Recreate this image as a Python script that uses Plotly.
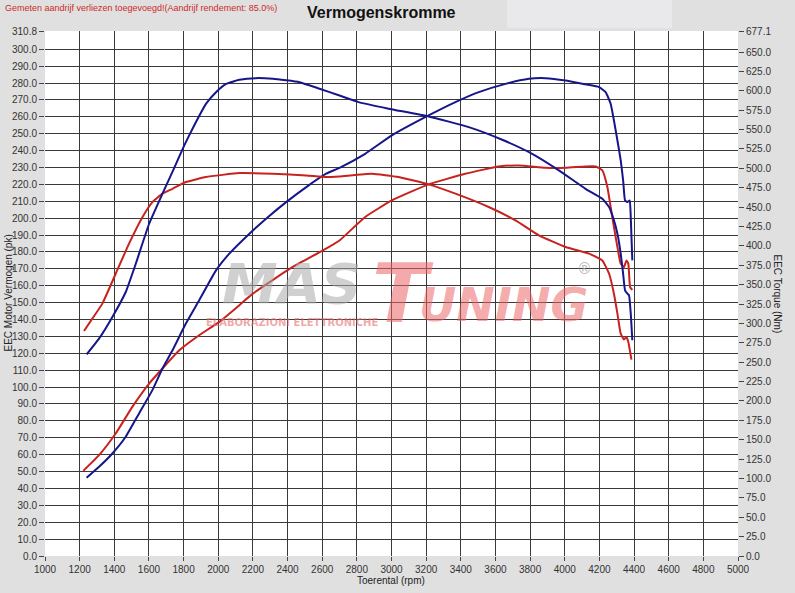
import plotly.graph_objects as go

# ---------------- data ----------------
blue_power_rpm = [1240, 1312, 1389, 1466, 1543, 1620, 1678, 1736, 1813, 1890, 1987, 2064, 2180, 2276,
                  2392, 2508, 2623, 2700, 2848, 3002, 3214, 3369, 3504, 3658, 3793, 3889, 4005, 4120,
                  4198, 4236, 4265, 4284, 4304, 4323, 4337, 4348, 4362, 4375, 4381, 4390]
blue_power_pk = [46.3, 52.8, 60.7, 70.6, 84.4, 98.2, 111.0, 121.8, 137.6, 151.4, 169.1, 179.0, 190.8, 199.7,
                 209.5, 218.4, 226.3, 229.8, 238.1, 249.0, 260.8, 268.7, 274.6, 279.5, 282.5, 282.9, 281.5, 279.2,
                 277.6, 274.6, 267.7, 257.8, 246.0, 234.2, 222.3, 210.5, 209.5, 210.5, 200.7, 175.0]

blue_torque_rpm = [1240, 1312, 1389, 1466, 1524, 1601, 1678, 1746, 1804, 1861, 1929, 1987, 2045, 2122,
                   2218, 2315, 2469, 2585, 2700, 2810, 2983, 3214, 3446, 3639, 3812, 3966, 4120, 4217,
                   4256, 4284, 4304, 4323, 4337, 4348, 4362, 4371, 4381, 4390]
blue_torque_nm = [260.1, 280.4, 308.3, 340.5, 376.9, 428.5, 467.3, 500.6, 529.6, 555.3, 583.2, 598.2, 608.9, 614.1,
                  616.3, 615.4, 611.1, 602.6, 593.9, 585.4, 576.9, 566.9, 553.1, 536.8, 518.7, 497.4, 473.6, 460.8,
                  450.1, 432.9, 415.7, 390.0, 364.0, 342.7, 338.3, 336.2, 312.6, 278.2]

red_power_rpm = [1221, 1312, 1408, 1504, 1601, 1678, 1775, 1890, 2006, 2122, 2199, 2430, 2604, 2700,
                 2848, 3002, 3214, 3426, 3619, 3735, 3889, 4005, 4120, 4178, 4217, 4246, 4265, 4284,
                 4304, 4323, 4342, 4356, 4367, 4377, 4390]
red_power_pk = [50.4, 59.7, 72.5, 88.3, 102.1, 111.0, 121.8, 130.7, 138.6, 148.5, 155.3, 171.1, 180.9, 186.8,
                200.7, 210.5, 220.0, 226.3, 230.6, 231.2, 229.8, 229.8, 230.6, 230.6, 228.3, 218.4, 206.6, 194.7,
                182.9, 173.0, 171.1, 175.0, 173.0, 159.2, 157.5]

red_torque_rpm = [1225, 1273, 1331, 1408, 1485, 1563, 1620, 1678, 1736, 1813, 1929, 2122, 2315, 2508,
                  2623, 2700, 2887, 3041, 3214, 3369, 3561, 3716, 3851, 4005, 4140, 4217, 4256, 4284,
                  4304, 4323, 4342, 4356, 4367, 4385]
red_torque_nm = [290.2, 306.1, 325.5, 364.0, 402.8, 437.2, 456.4, 467.3, 473.6, 482.3, 488.7, 493.9, 493.0, 490.8,
                 488.7, 489.5, 493.0, 488.7, 479.3, 467.3, 450.1, 432.9, 413.5, 398.5, 390.0, 381.2, 364.0, 338.3,
                 312.6, 286.7, 279.1, 282.6, 276.0, 253.2]

x_ticks = list(range(1000, 5001, 200))
left_ticks = [float(v) for v in range(0, 301, 10)] + [310.8]
right_ticks = [float(v) for v in range(0, 651, 25)] + [677.1]
left_max = 310.8
right_max = 677.1

# ---------------- figure ----------------
W, H = 795, 593
L, R, T, B = 45, 738, 31, 556

def px(xp):
    return (xp - L) / (R - L)

def py(yp):
    return (B - yp) / (B - T)

BLUE = "#16168a"
RED = "#c8221f"
FONT = "Liberation Sans, Arial, sans-serif"

fig = go.Figure()

# watermark (as annotations)
wm = [
    dict(text="<b><i>MAS</i></b>", x=px(291), y=py(283), size=56, color="rgba(170,170,170,0.55)"),
    dict(text="<b><i>T</i></b>", x=px(403), y=py(293), size=82, color="rgba(235,100,100,0.55)"),
    dict(text="<b><i>UNING</i></b>", x=px(503), y=py(305), size=46, color="rgba(235,100,100,0.55)"),
    dict(text="<b>ELABORAZIONI ELETTRONICHE</b>", x=px(292), y=py(322), size=10, color="rgba(230,110,110,0.6)"),
    dict(text="®", x=px(584), y=py(269), size=15, color="rgba(150,150,150,0.7)"),
]
for w in wm:
    fig.add_annotation(text=w["text"], x=w["x"], y=w["y"], xref="paper", yref="paper",
                       showarrow=False, xanchor="center", yanchor="middle",
                       font=dict(family="DejaVu Sans, sans-serif", size=w["size"], color=w["color"]))

line_shape = dict(width=2, shape="spline", smoothing=0.4)

fig.add_trace(go.Scatter(x=red_power_rpm, y=red_power_pk, mode="lines",
                         line=dict(color=RED, **line_shape), yaxis="y", showlegend=False))
fig.add_trace(go.Scatter(x=red_torque_rpm, y=red_torque_nm, mode="lines",
                         line=dict(color=RED, **line_shape), yaxis="y2", showlegend=False))
fig.add_trace(go.Scatter(x=blue_power_rpm, y=blue_power_pk, mode="lines",
                         line=dict(color=BLUE, **line_shape), yaxis="y", showlegend=False))
fig.add_trace(go.Scatter(x=blue_torque_rpm, y=blue_torque_nm, mode="lines",
                         line=dict(color=BLUE, **line_shape), yaxis="y2", showlegend=False))

GRID = "#3a3a3a"
TICKFONT = dict(family=FONT, size=10, color="#333333")

fig.update_layout(
    width=W, height=H,
    margin=dict(l=L, r=W - R, t=T, b=H - B, autoexpand=False),
    paper_bgcolor="#e0e0e0",
    plot_bgcolor="#ffffff",
    showlegend=False,
    xaxis=dict(range=[1000, 5000], tickvals=x_ticks, ticktext=[str(v) for v in x_ticks],
               ticks="outside", ticklen=4, tickcolor="#444", tickfont=TICKFONT,
               showgrid=True, gridcolor=GRID, gridwidth=1, zeroline=False, showline=False,
               fixedrange=True),
    yaxis=dict(range=[0, left_max], tickvals=left_ticks, ticktext=[f"{v:.1f}" for v in left_ticks],
               ticks="outside", ticklen=5, tickcolor="#444", tickfont=TICKFONT,
               showgrid=True, gridcolor=GRID, gridwidth=1, zeroline=False, showline=False),
    yaxis2=dict(range=[0, right_max], tickvals=right_ticks, ticktext=[f"{v:.1f}" for v in right_ticks],
                overlaying="y", side="right", ticks="outside", ticklen=5, tickcolor="#444",
                tickfont=TICKFONT, showgrid=False, zeroline=False, showline=False),
)

# lighter band behind title
fig.add_shape(type="rect", xref="paper", yref="paper", x0=px(507), x1=px(672), y0=py(28), y1=py(0),
              fillcolor="#e9e9eb", line=dict(width=0), layer="below")

fig.add_annotation(text="<b>Vermogenskromme</b>", x=px(381), y=py(12), xref="paper", yref="paper",
                   showarrow=False, xanchor="center", yanchor="middle",
                   font=dict(family=FONT, size=16, color="#111111"))
fig.add_annotation(text="Gemeten aandrijf verliezen toegevoegd!(Aandrijf rendement: 85.0%)",
                   x=px(3), y=py(8), xref="paper", yref="paper", showarrow=False,
                   xanchor="left", yanchor="middle", font=dict(family=FONT, size=9, color="#cc2a2a"))
fig.add_annotation(text="EEC Motor Vermogen (pk)", x=px(8), y=0.5, xref="paper", yref="paper",
                   showarrow=False, textangle=-90, xanchor="center", yanchor="middle",
                   font=dict(family=FONT, size=10, color="#222222"))
fig.add_annotation(text="EEC Torque (Nm)", x=px(777), y=0.5, xref="paper", yref="paper",
                   showarrow=False, textangle=90, xanchor="center", yanchor="middle",
                   font=dict(family=FONT, size=10, color="#222222"))
fig.add_annotation(text="Toerental (rpm)", x=px(391), y=py(580), xref="paper", yref="paper",
                   showarrow=False, xanchor="center", yanchor="middle",
                   font=dict(family=FONT, size=10, color="#222222"))

fig.write_html("out.html", config={"displayModeBar": False},
               post_script="document.body.style.margin='0';document.body.style.overflow='hidden';")
